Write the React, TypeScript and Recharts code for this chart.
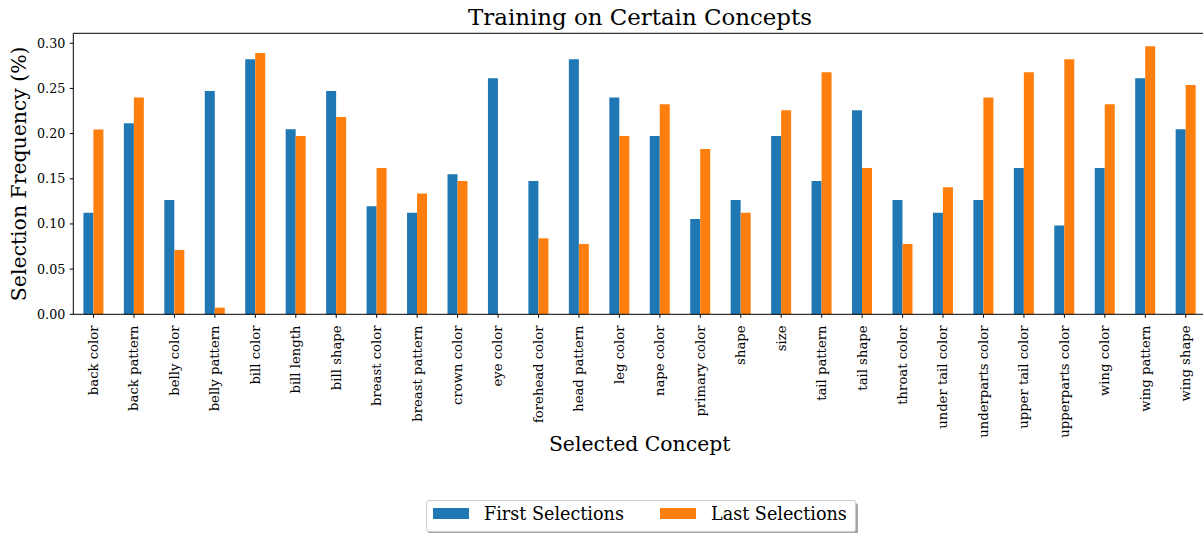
import { Bar, BarChart, Label, ReferenceLine, XAxis, YAxis } from 'recharts';

const concepts = [
  'back color', 'back pattern', 'belly color', 'belly pattern', 'bill color', 'bill length', 'bill shape',
  'breast color', 'breast pattern', 'crown color', 'eye color', 'forehead color', 'head pattern', 'leg color',
  'nape color', 'primary color', 'shape', 'size', 'tail pattern', 'tail shape', 'throat color',
  'under tail color', 'underparts color', 'upper tail color', 'upperparts color', 'wing color', 'wing pattern', 'wing shape',
];
const firstSelections = [
  0.1125, 0.2114, 0.1266, 0.2472, 0.2823, 0.2048, 0.2472, 0.1196, 0.1125, 0.155, 0.2613, 0.1476, 0.2823, 0.2399,
  0.1974, 0.1055, 0.1266, 0.1974, 0.1476, 0.2258, 0.1266, 0.1125, 0.1266, 0.162, 0.0982, 0.162, 0.2613, 0.2048,
];
const lastSelections = [
  0.2044, 0.2399, 0.0712, 0.0074, 0.2893, 0.1974, 0.2185, 0.162, 0.1336, 0.1476, 0, 0.0841, 0.0779, 0.1974,
  0.2325, 0.183, 0.1125, 0.2258, 0.2679, 0.162, 0.0779, 0.1406, 0.2399, 0.2679, 0.2823, 0.2325, 0.2967, 0.2539,
];
const yTicks = [0, 0.05, 0.1, 0.15, 0.2, 0.25, 0.3];
const yMax = 0.311;

const data = concepts.map((name, i) => ({ name, first: firstSelections[i], last: lastSelections[i] }));

const font = '"DejaVu Serif", serif';
const BLUE = '#1f77b4';
const ORANGE = '#ff7f0e';

function ConceptTick({ x, payload }: any) {
  return (
    <text
      transform={`translate(${x + 4.4}, 325.5) rotate(-90)`}
      textAnchor="end"
      fontSize={13.2}
      fontFamily={font}
      fill="#000"
    >
      {payload.value}
    </text>
  );
}

export default function App() {
  return (
    <div style={{ position: 'absolute', left: 0, top: 0, width: 1203, height: 533, overflow: 'hidden', background: '#fff' }}>
      <div
        style={{
          position: 'absolute', left: 0, width: 1280, top: 3, textAlign: 'center',
          fontFamily: font, fontSize: 22.9, color: '#000', lineHeight: '29px',
        }}
      >
        Training on Certain Concepts
      </div>
      <BarChart
        width={1206}
        height={533}
        data={data}
        margin={{ top: 33.3, right: 0, bottom: 0, left: 0 }}
        barGap={0}
        barCategoryGap="25%"
      >
        <XAxis
          dataKey="name"
          interval={0}
          height={218.7}
          tick={<ConceptTick />}
          tickSize={3.5}
          axisLine={{ stroke: '#000', strokeWidth: 1 }}
          tickLine={{ stroke: '#000' }}
        >
          <Label
            content={() => (
              <text x={639.7} y={451} textAnchor="middle" fontFamily={font} fontSize={20.4} fill="#000">
                Selected Concept
              </text>
            )}
          />
        </XAxis>
        <YAxis
          width={73.3}
          domain={[0, yMax]}
          ticks={yTicks}
          tickFormatter={(v: number) => v.toFixed(2)}
          tickSize={3.5}
          tickMargin={4.5}
          tick={{ fontSize: 12.7, fontFamily: font, fill: '#000' }}
          axisLine={{ stroke: '#000', strokeWidth: 1 }}
          tickLine={{ stroke: '#000' }}
        >
          <Label
            content={() => (
              <text
                transform="translate(26, 173.8) rotate(-90)"
                textAnchor="middle"
                fontFamily={font}
                fontSize={20.4}
                fill="#000"
              >
                Selection Frequency (%)
              </text>
            )}
          />
        </YAxis>
        <ReferenceLine y={yMax} stroke="#000" strokeWidth={1} />
        <Bar dataKey="first" name="First Selections" fill={BLUE} isAnimationActive={false} />
        <Bar dataKey="last" name="Last Selections" fill={ORANGE} isAnimationActive={false} />
      </BarChart>
      <div
        style={{
          position: 'absolute', left: 426, top: 500, width: 428, height: 30,
          border: '1px solid #cccccc', borderRadius: 3, background: '#fff',
          boxShadow: '2px 3px 0 rgba(0,0,0,0.35)', fontFamily: font, fontSize: 17.6, color: '#000',
        }}
      >
        <div style={{ position: 'absolute', left: 6, top: 7, width: 36, height: 11, background: BLUE }} />
        <div style={{ position: 'absolute', left: 57, top: 2, lineHeight: '22px' }}>First Selections</div>
        <div style={{ position: 'absolute', left: 233, top: 7, width: 36, height: 11, background: ORANGE }} />
        <div style={{ position: 'absolute', left: 284, top: 2, lineHeight: '22px' }}>Last Selections</div>
      </div>
    </div>
  );
}
